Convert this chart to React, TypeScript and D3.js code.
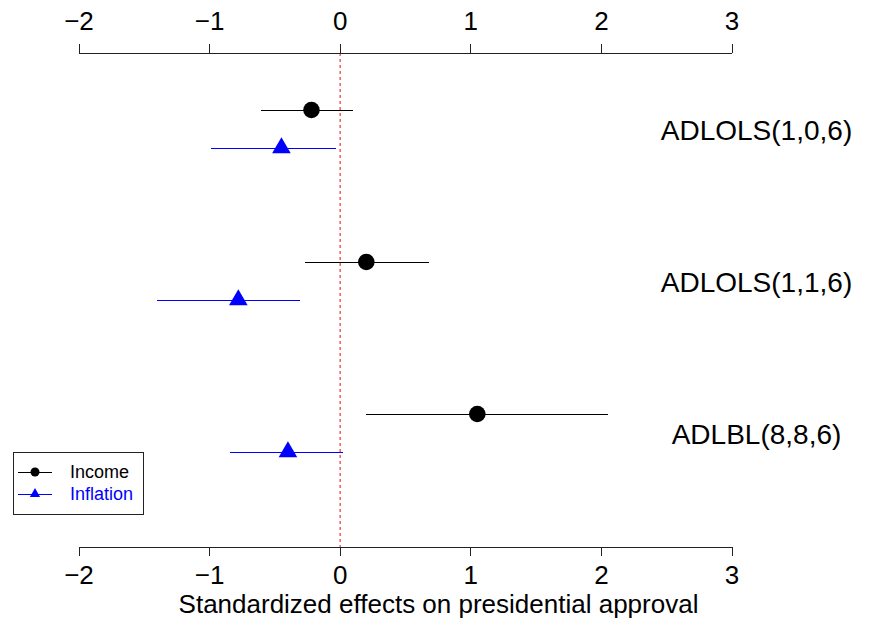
import * as d3 from 'd3';

// model names shown on the right
const models = ['ADLOLS(1,0,6)', 'ADLOLS(1,1,6)', 'ADLBL(8,8,6)'];

// standardized effects per model: [estimate, lower, upper]
const incomeEst = [-0.22, 0.2, 1.05];
const incomeLo = [-0.61, -0.27, 0.2];
const incomeHi = [0.1, 0.68, 2.05];

const inflationEst = [-0.45, -0.78, -0.4];
const inflationLo = [-0.99, -1.4, -0.84];
const inflationHi = [-0.03, -0.31, 0.02];

const xTicks = [-2, -1, 0, 1, 2, 3];

const font = '"Liberation Sans", Arial, Helvetica, sans-serif';

export default function App() {
  const width = 883;
  const height = 629;

  const x = d3.scaleLinear().domain([-2, 3]).range([79, 732]);
  // row position: model index, inflation offset by 0.25
  const y = d3.scaleLinear().domain([-0.375, 2.875]).range([53, 547]);

  const top = y(-0.375);
  const bottom = y(2.875);
  const fmt = d3.format('d');
  const tri = d3.symbol(d3.symbolTriangle, 150)();
  const triSmall = d3.symbol(d3.symbolTriangle, 45)();

  const series = [
    { est: incomeEst, lo: incomeLo, hi: incomeHi, off: 0, color: 'black', shape: 'circle' },
    { est: inflationEst, lo: inflationLo, hi: inflationHi, off: 0.25, color: 'blue', shape: 'triangle' },
  ];

  return (
    <svg
      width={width}
      height={height}
      style={{ position: 'absolute', left: 0, top: 0, background: 'white' }}
      fontFamily={font}
    >
      {/* zero reference line */}
      <line x1={x(0)} x2={x(0)} y1={top} y2={bottom} stroke="#f06060" strokeWidth={1.5} strokeDasharray="3,3" />

      {/* top axis */}
      <g shapeRendering="crispEdges">
        <line x1={x(-2)} x2={x(3)} y1={top} y2={top} stroke="#222" />
        {xTicks.map((t) => (
          <line key={'t' + t} x1={x(t)} x2={x(t)} y1={top} y2={top - 9} stroke="#222" />
        ))}
      </g>
      {xTicks.map((t) => (
        <text key={'tl' + t} x={x(t)} y={30} textAnchor="middle" fontSize={26}>
          {fmt(t)}
        </text>
      ))}

      {/* bottom axis */}
      <g shapeRendering="crispEdges">
        <line x1={x(-2)} x2={x(3)} y1={bottom} y2={bottom} stroke="#222" />
        {xTicks.map((t) => (
          <line key={'b' + t} x1={x(t)} x2={x(t)} y1={bottom} y2={bottom + 9} stroke="#222" />
        ))}
      </g>
      {xTicks.map((t) => (
        <text key={'bl' + t} x={x(t)} y={583.5} textAnchor="middle" fontSize={26}>
          {fmt(t)}
        </text>
      ))}
      <text x={438.5} y={613} textAnchor="middle" fontSize={26}>
        Standardized effects on presidential approval
      </text>

      {/* estimates with intervals */}
      {series.map((s, si) =>
        models.map((m, i) => {
          const yy = y(i + s.off);
          return (
            <g key={si + '-' + i}>
              <line
                x1={x(s.lo[i])}
                x2={x(s.hi[i])}
                y1={yy}
                y2={yy}
                stroke={s.color}
                strokeWidth={1}
                shapeRendering="crispEdges"
              />
              {s.shape === 'circle' ? (
                <circle cx={x(s.est[i])} cy={yy} r={8.3} fill={s.color} />
              ) : (
                <path d={tri!} transform={`translate(${x(s.est[i])},${yy})`} fill={s.color} />
              )}
            </g>
          );
        })
      )}

      {/* model labels */}
      {models.map((m, i) => (
        <text key={m} x={756.5} y={y(i + 0.125) + 11} textAnchor="middle" fontSize={28}>
          {m}
        </text>
      ))}

      {/* legend */}
      <g>
        <rect x={13.5} y={452.5} width={130} height={62} fill="white" stroke="#222" shapeRendering="crispEdges" />
        <line x1={18} x2={52} y1={472} y2={472} stroke="black" shapeRendering="crispEdges" />
        <circle cx={35} cy={472} r={4.5} fill="black" />
        <text x={70} y={478} fontSize={18}>
          Income
        </text>
        <line x1={18} x2={52} y1={494} y2={494} stroke="blue" shapeRendering="crispEdges" />
        <path d={triSmall!} transform="translate(35,494)" fill="blue" />
        <text x={70} y={500} fontSize={18} fill="blue">
          Inflation
        </text>
      </g>
    </svg>
  );
}
